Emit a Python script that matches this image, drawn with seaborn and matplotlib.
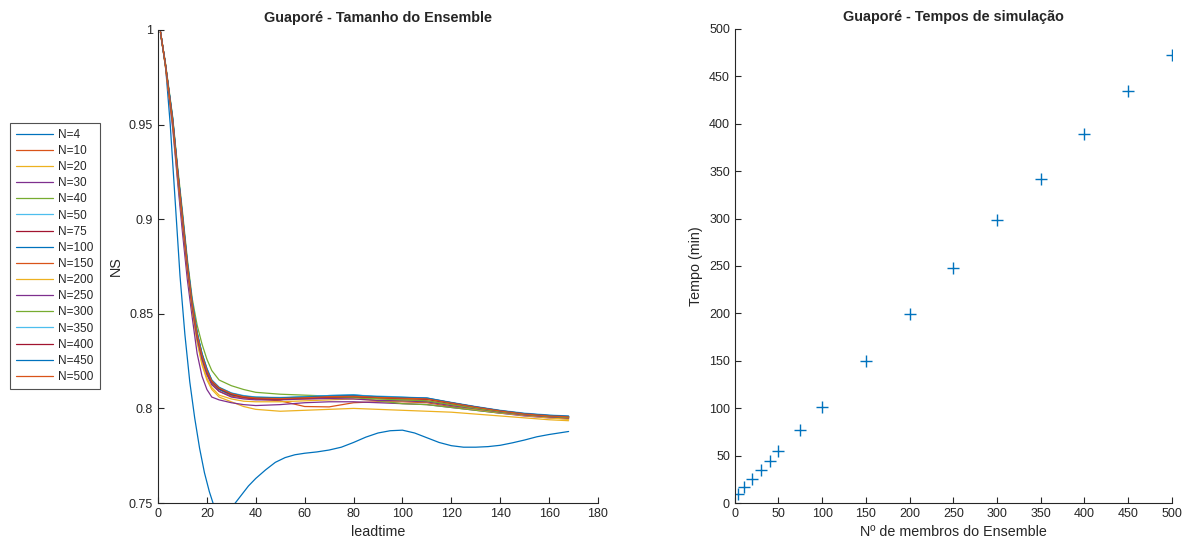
import numpy as np
import pandas as pd
import matplotlib
matplotlib.use('Agg')
import matplotlib.pyplot as plt
import seaborn as sns

# ---- data ---------------------------------------------------------------
leadtime = [1, 3, 6, 8, 10, 12, 14, 16, 18, 20, 22, 25, 30, 35, 40, 50, 60,
            70, 80, 90, 100, 110, 120, 130, 140, 150, 160, 168]

labels = ['N=4', 'N=10', 'N=20', 'N=30', 'N=40', 'N=50', 'N=75', 'N=100',
          'N=150', 'N=200', 'N=250', 'N=300', 'N=350', 'N=400', 'N=450', 'N=500']

# N=4 drifts away from the others, so it gets a denser leadtime list
leadtime_n4 = [1, 3, 5, 7, 9, 11, 13, 15, 17, 19, 21, 23, 25, 27, 29, 31, 34,
               37, 40, 44, 48, 52, 56, 60, 65, 70, 75, 80, 85, 90, 95, 100, 105,
               110, 115, 120, 125, 130, 135, 140, 145, 150, 155, 160, 165, 168]
ns_n4 = [0.998, 0.982, 0.950, 0.910, 0.870, 0.839, 0.814, 0.795, 0.779, 0.766,
         0.756, 0.748, 0.742, 0.739, 0.742, 0.749, 0.754, 0.759, 0.763, 0.7675,
         0.7715, 0.774, 0.7755, 0.7763, 0.777, 0.778, 0.7795, 0.782, 0.7848, 0.787,
         0.7882, 0.7885, 0.787, 0.7845, 0.782, 0.7803, 0.7795, 0.7795, 0.7798,
         0.7805, 0.7818, 0.7833, 0.785, 0.7862, 0.7872, 0.7878]

ns_n10 = [0.999, 0.982, 0.952, 0.925, 0.900, 0.875, 0.854, 0.838, 0.827, 0.819,
          0.814, 0.810, 0.807, 0.8058, 0.805, 0.804, 0.801, 0.8008, 0.803, 0.8035,
          0.8035, 0.803, 0.801, 0.7995, 0.798, 0.7965, 0.7955, 0.795]
ns_n20 = [0.999, 0.981, 0.950, 0.922, 0.897, 0.872, 0.851, 0.835, 0.823, 0.815,
          0.810, 0.806, 0.8035, 0.801, 0.7995, 0.7985, 0.799, 0.7995, 0.800, 0.7995,
          0.799, 0.7985, 0.798, 0.797, 0.796, 0.795, 0.794, 0.7935]
ns_n30 = [0.999, 0.981, 0.948, 0.920, 0.893, 0.868, 0.848, 0.829, 0.817, 0.810,
          0.806, 0.8045, 0.803, 0.802, 0.8015, 0.802, 0.803, 0.8035, 0.8035, 0.803,
          0.8025, 0.802, 0.8005, 0.799, 0.7975, 0.796, 0.795, 0.7945]
ns_n40 = [0.999, 0.983, 0.954, 0.928, 0.904, 0.879, 0.858, 0.844, 0.834, 0.826,
          0.820, 0.815, 0.812, 0.810, 0.8085, 0.8075, 0.807, 0.8065, 0.806, 0.804,
          0.8025, 0.802, 0.8005, 0.799, 0.7975, 0.7965, 0.7955, 0.795]
ns_n50 = [0.999, 0.982, 0.953, 0.926, 0.902, 0.877, 0.856, 0.840, 0.829, 0.821,
          0.815, 0.811, 0.808, 0.8065, 0.806, 0.8055, 0.806, 0.8065, 0.807, 0.806,
          0.8055, 0.805, 0.8025, 0.800, 0.798, 0.7965, 0.7958, 0.7952]
ns_n75 = [0.999, 0.982, 0.952, 0.925, 0.901, 0.876, 0.855, 0.839, 0.828, 0.820,
          0.814, 0.8105, 0.8075, 0.806, 0.8055, 0.805, 0.8055, 0.806, 0.8062, 0.8055,
          0.805, 0.8048, 0.8025, 0.8005, 0.7985, 0.797, 0.796, 0.7955]
ns_n100 = [0.999, 0.982, 0.953, 0.926, 0.902, 0.877, 0.856, 0.840, 0.828, 0.820,
           0.814, 0.810, 0.807, 0.806, 0.8055, 0.8055, 0.806, 0.8068, 0.8072, 0.806,
           0.8058, 0.8055, 0.803, 0.8005, 0.7985, 0.797, 0.7962, 0.7958]
ns_n150 = [0.999, 0.982, 0.951, 0.924, 0.899, 0.874, 0.853, 0.837, 0.826, 0.818,
           0.813, 0.809, 0.8065, 0.8055, 0.805, 0.8048, 0.805, 0.8055, 0.806, 0.8052,
           0.8048, 0.804, 0.802, 0.800, 0.798, 0.7965, 0.7955, 0.795]
ns_n200 = [0.999, 0.981, 0.950, 0.923, 0.898, 0.873, 0.852, 0.836, 0.824, 0.816,
           0.811, 0.807, 0.805, 0.8038, 0.8035, 0.8035, 0.804, 0.8045, 0.805, 0.8042,
           0.8038, 0.8035, 0.8015, 0.7995, 0.7978, 0.7962, 0.795, 0.7942]
ns_n250 = [0.999, 0.982, 0.951, 0.924, 0.899, 0.874, 0.853, 0.837, 0.826, 0.818,
           0.8125, 0.809, 0.806, 0.805, 0.8045, 0.8045, 0.805, 0.8052, 0.805, 0.8042,
           0.804, 0.8035, 0.8015, 0.7998, 0.798, 0.7965, 0.7955, 0.795]
ns_n300 = [0.999, 0.982, 0.952, 0.925, 0.901, 0.876, 0.855, 0.839, 0.828, 0.820,
           0.8145, 0.8108, 0.8078, 0.8063, 0.8058, 0.8055, 0.8058, 0.806, 0.8058, 0.805,
           0.8045, 0.804, 0.802, 0.800, 0.7982, 0.7968, 0.7958, 0.7952]
ns_n350 = [0.999, 0.982, 0.953, 0.926, 0.902, 0.877, 0.856, 0.840, 0.829, 0.821,
           0.815, 0.8112, 0.8082, 0.8068, 0.806, 0.8058, 0.8062, 0.8068, 0.807, 0.8065,
           0.806, 0.8055, 0.8032, 0.801, 0.799, 0.7975, 0.7965, 0.796]
ns_n400 = [0.999, 0.982, 0.952, 0.926, 0.901, 0.876, 0.855, 0.839, 0.828, 0.820,
           0.8142, 0.8105, 0.8075, 0.806, 0.8052, 0.805, 0.8055, 0.806, 0.8062, 0.8058,
           0.8055, 0.8052, 0.803, 0.8008, 0.7988, 0.7972, 0.7962, 0.7957]
ns_n450 = [0.999, 0.982, 0.953, 0.926, 0.902, 0.877, 0.856, 0.840, 0.829, 0.821,
           0.8148, 0.811, 0.808, 0.8065, 0.8058, 0.8056, 0.806, 0.8066, 0.8068, 0.8062,
           0.8058, 0.8054, 0.803, 0.8008, 0.7988, 0.7972, 0.7963, 0.7958]
ns_n500 = [0.999, 0.982, 0.952, 0.925, 0.901, 0.876, 0.855, 0.839, 0.828, 0.820,
           0.8145, 0.8108, 0.8078, 0.8062, 0.8055, 0.8052, 0.8056, 0.8062, 0.8064, 0.8058,
           0.8054, 0.805, 0.8028, 0.8006, 0.7986, 0.797, 0.796, 0.7955]

ns_series = [ns_n4, ns_n10, ns_n20, ns_n30, ns_n40, ns_n50, ns_n75, ns_n100,
             ns_n150, ns_n200, ns_n250, ns_n300, ns_n350, ns_n400, ns_n450, ns_n500]

members = [4, 10, 20, 30, 40, 50, 75, 100, 150, 200, 250, 300, 350, 400, 450, 500]
tempo_min = [10, 16.5, 25.5, 35, 44, 54.5, 77, 101.5, 149.5, 199, 247.5, 298,
             341.5, 389, 434.5, 473]

# MATLAB default colour order
matlab_colors = ['#0072BD', '#D95319', '#EDB120', '#7E2F8E', '#77AC30',
                 '#4DBEEE', '#A2142F']

# ---- style --------------------------------------------------------------
sns.set_style('ticks')
plt.rcParams['font.family'] = ['Liberation Sans', 'DejaVu Sans']
plt.rcParams['xtick.direction'] = 'in'
plt.rcParams['ytick.direction'] = 'in'
plt.rcParams['axes.edgecolor'] = '#262626'
plt.rcParams['xtick.color'] = '#262626'
plt.rcParams['ytick.color'] = '#262626'
plt.rcParams['axes.linewidth'] = 0.8

fig = plt.figure(figsize=(11.89, 5.48), dpi=100)
ax1 = fig.add_axes([0.1329, 0.0821, 0.370, 0.8632])
ax2 = fig.add_axes([0.618, 0.0821, 0.3675, 0.8650])

# left: NS vs leadtime
for i, (lab, vals) in enumerate(zip(labels, ns_series)):
    x = leadtime_n4 if lab == 'N=4' else leadtime
    df = pd.DataFrame({'leadtime': x, 'NS': vals})
    sns.lineplot(data=df, x='leadtime', y='NS', ax=ax1,
                 color=matlab_colors[i % len(matlab_colors)],
                 linewidth=0.9, label=lab)

ax1.set_xlim(0, 180)
ax1.set_ylim(0.75, 1)
ax1.set_xticks(np.arange(0, 181, 20))
ax1.set_yticks([0.75, 0.8, 0.85, 0.9, 0.95, 1.0])
ax1.set_yticklabels(['0.75', '0.8', '0.85', '0.9', '0.95', '1'])
ax1.set_xlabel('leadtime', fontsize=10.3, color='#262626')
ax1.set_ylabel('NS', fontsize=10.3, color='#262626')
ax1.set_title('Guaporé - Tamanho do Ensemble', fontsize=10.4, fontweight='bold', pad=5.5)
ax1.tick_params(labelsize=9, length=4, width=0.8)
sns.despine(ax=ax1)

leg = ax1.legend(loc='upper left', bbox_to_anchor=(0.0084, 0.7755),
                 bbox_transform=fig.transFigure, borderaxespad=0, fontsize=8.5,
                 frameon=True, fancybox=False, edgecolor='#262626',
                 handlelength=3.15, handletextpad=0.45, labelspacing=0.35,
                 borderpad=0.5)
leg.get_frame().set_linewidth(0.8)

# right: simulation times
df_t = pd.DataFrame({'membros': members, 'tempo': tempo_min})
sns.scatterplot(data=df_t, x='membros', y='tempo', ax=ax2, marker='+',
                s=70, color='#0072BD', linewidth=1.0)
ax2.set_xlim(0, 500)
ax2.set_ylim(0, 500)
ax2.set_xticks(np.arange(0, 501, 50))
ax2.set_yticks(np.arange(0, 501, 50))
ax2.set_xlabel('Nº de membros do Ensemble', fontsize=10.3, color='#262626')
ax2.set_ylabel('Tempo (min)', fontsize=10.3, color='#262626')
ax2.set_title('Guaporé - Tempos de simulação', fontsize=10.4, fontweight='bold', pad=5.5)
ax2.tick_params(labelsize=9, length=4, width=0.8)
sns.despine(ax=ax2)

fig.savefig('out.png', dpi=100)
